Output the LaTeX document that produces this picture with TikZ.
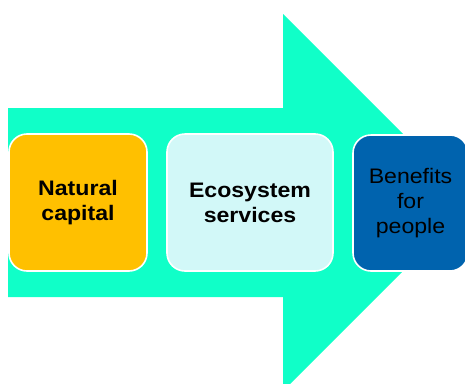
\documentclass[tikz,border=0pt]{standalone}
\usepackage{fontspec}
\newfontfamily\boxfont[FakeStretch=1.1]{Liberation Sans}
\definecolor{arrowgreen}{RGB}{16,255,200}
\definecolor{capgold}{RGB}{255,192,0}
\definecolor{servcyan}{RGB}{210,248,248}
\definecolor{benblue}{RGB}{0,99,174}
\tikzset{
  stagebox/.style={draw=white, line width=1.6pt, rounded corners=18pt, align=center,
    inner sep=0pt, font=\boxfont\fontsize{21}{25}\selectfont, text=black},
}
\begin{document}
\begin{tikzpicture}[x=1pt,y=-1pt]
\useasboundingbox (0,0) rectangle (465,383);
\fill[arrowgreen] (8,108) -- (283,108) -- (283,14) -- (471.5,202.5) -- (283,391) -- (283,297) -- (8,297) -- cycle;
\node[stagebox, fill=capgold, minimum width=138pt, minimum height=137pt, font=\boxfont\bfseries\fontsize{21}{25}\selectfont] (nat) at (78,202.5) {Natural\\capital};
\node[stagebox, fill=servcyan, minimum width=166pt, minimum height=137pt, font=\boxfont\bfseries\fontsize{21}{25}\selectfont] (eco) at (250,202.5) {Ecosystem\\services};
\node[stagebox, fill=benblue, minimum width=115pt, minimum height=136pt] (ben) at (410.5,203) {Benefits\\for\\people};
\end{tikzpicture}
\end{document}
